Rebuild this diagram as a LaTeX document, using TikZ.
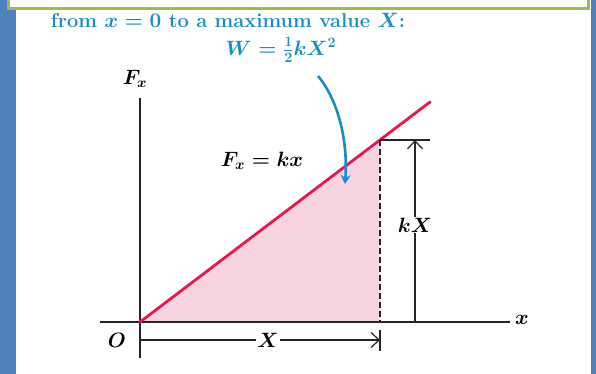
\documentclass[tikz,border=0pt]{standalone}
\usetikzlibrary{arrows.meta}

\definecolor{slideblue}{HTML}{4F81BD}
\definecolor{boxgreen}{HTML}{9BBB59}
\definecolor{textblue}{HTML}{1A8CC6}
\definecolor{springred}{HTML}{E5194C}
\definecolor{areapink}{HTML}{F8D4E1}

\begin{document}
\begin{tikzpicture}[
    x=1pt, y=-1pt,
    caption/.style={text=textblue, font=\fontsize{20}{24}\selectfont\bfseries\boldmath, inner sep=0pt},
    axislabel/.style={font=\fontsize{22}{26}\selectfont\bfseries\boldmath, inner sep=1pt},
    axis/.style={line width=1.4pt, black!85},
    dim/.style={line width=1.2pt, black!85},
    tip/.style={-{Straight Barb[length=8pt, width=15pt, line width=1.2pt]}},
    forceline/.style={line width=2.8pt, springred, line cap=round}
  ]
    \useasboundingbox (0,0) rectangle (596,374);

    % slide background
    \fill[slideblue] (0,0) rectangle (596,374);
    \fill[white] (16,0) rectangle (591,374);
    \begin{scope}
      \clip (0,0) rectangle (596,374);
      \draw[boxgreen, line width=3pt, fill=white] (8,-6) rectangle (588,9);
    \end{scope}

    % points
    \coordinate (O) at (140,322);
    \coordinate (P) at (380,140);
    \coordinate (Pfoot) at (380,322);
    \coordinate (Lend) at (430,102);
    \coordinate (yTop) at (140,98);
    \coordinate (yBot) at (140,358);
    \coordinate (xLeft) at (100,322);
    \coordinate (xRight) at (510,322);
    \coordinate (kTop) at (415,140);
    \coordinate (kBot) at (415,322);
    \coordinate (Xleft) at (140,340);
    \coordinate (Xright) at (380,340);

    % work area
    \fill[areapink] (O) -- (P) -- (Pfoot) -- cycle;

    % text
    \node[caption] (title) at (228,20) {from $x = 0$ to a maximum value $X$:};
    \node[caption] (work) at (281,50) {$W = \frac{1}{2}kX^2$};

    % axes
    \draw[axis] (yTop) -- (yBot);
    \draw[axis] (xLeft) -- (xRight);
    \node[axislabel] (Fx) at (135,79) {$F_x$};
    \node[axislabel] (xl) at (522,320) {$x$};
    \node[axislabel] (Ol) at (117,340) {$O$};

    % force line
    \draw[forceline] (O) -- (Lend);
    \node[axislabel] (Fkx) at (262,161) {$F_x = kx$};

    % kX dimension
    \draw[dim, dashed, dash pattern=on 6pt off 3pt, line width=1.6pt] (P) -- (Pfoot);
    \draw[dim] (P) -- (430,140);
    \node[axislabel, fill=white] (kX) at (415,225) {$kX$};
    \draw[dim, tip] (kX) -- (kTop);
    \draw[dim] (kX) -- (kBot);

    % X dimension
    \node[axislabel, fill=white] (Xl) at (268,340) {$X$};
    \draw[dim] (Xl) -- (Xleft);
    \draw[dim, tip] (Xl) -- (Xright);
    \draw[dim] (380,330) -- (380,351);

    % pointer from W to the area
    \draw[textblue, line width=2.6pt, -{Stealth[length=9pt, width=10pt]}]
      (318,76) .. controls (338,100) and (348,140) .. (345,184);
  \end{tikzpicture}
\end{document}
